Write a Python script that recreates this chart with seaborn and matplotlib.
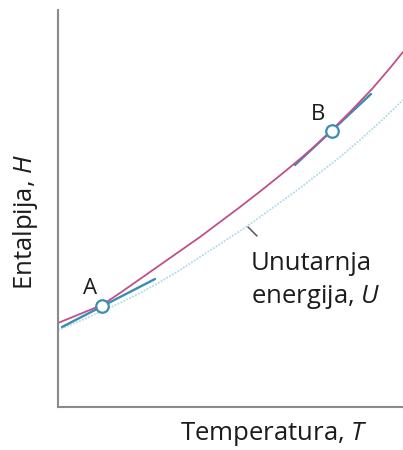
import matplotlib
matplotlib.use("Agg")
import matplotlib.pyplot as plt
import seaborn as sns
import pandas as pd

# enthalpy curve H(T) (arbitrary units)
t_h = [0, 22, 44, 62, 82, 102, 122, 142, 162, 182, 202, 222, 242, 257, 273, 292, 314, 332, 345]
h_vals = [84, 93, 102, 114, 128, 142, 156, 170, 185, 200, 215.5, 231.5, 248, 261, 276, 295, 318, 339, 355]

# internal energy curve U(T)
t_u = [0, 22, 42, 62, 82, 102, 122, 142, 162, 182, 202, 222, 242, 262, 282, 302, 322, 345]
u_vals = [77, 86, 95, 104, 114, 125, 137, 150, 163, 176, 190, 204.5, 219, 234.5, 250, 267, 285, 307]

# tangent segments at A and B
tan_a_t = [4, 97]
tan_a_h = [80, 128]
tan_b_t = [237, 313]
tan_b_h = [242, 313]

# marked points
point_names = ["A", "B"]
point_t = [44, 274]
point_h = [101, 276]

# pointer from the U label to the curve
pointer_t = [190, 199]
pointer_h = [180, 171]

sns.set_style("white")
plt.rcParams["font.family"] = ["Open Sans", "DejaVu Sans"]
plt.rcParams["mathtext.fontset"] = "custom"
plt.rcParams["mathtext.rm"] = "Open Sans"
plt.rcParams["mathtext.it"] = "Open Sans:italic"

magenta = "#c0508a"
blue = "#3a8db3"
light_blue = "#b2dae8"
ink = "#1c1c1c"

fig = plt.figure(figsize=(4.03, 4.5), dpi=100)
ax = fig.add_axes([58 / 403, 43 / 450, 345 / 403, 397 / 450])

h_df = pd.DataFrame({"T": t_h, "H": h_vals})
u_df = pd.DataFrame({"T": t_u, "U": u_vals})

sns.lineplot(data=u_df, x="T", y="U", ax=ax, color=light_blue, lw=1.3,
             linestyle=(0, (1, 0.8)), sort=False, estimator=None)
sns.lineplot(x=tan_a_t, y=tan_a_h, ax=ax, color=blue, lw=1.7, sort=False, estimator=None)
sns.lineplot(x=tan_b_t, y=tan_b_h, ax=ax, color=blue, lw=1.7, sort=False, estimator=None)
sns.lineplot(data=h_df, x="T", y="H", ax=ax, color=magenta, lw=1.3, sort=False, estimator=None)
sns.lineplot(x=pointer_t, y=pointer_h, ax=ax, color="#555555", lw=1.1, sort=False, estimator=None)

ax.plot(point_t, point_h, "o", ms=9, mfc="white", mec=blue, mew=1.6, zorder=5)
ax.text(point_t[0] - 12, point_h[0] + 17, point_names[0], fontsize=16,
        ha="center", va="center", color=ink)
ax.text(point_t[1] - 14, point_h[1] + 16, point_names[1], fontsize=16,
        ha="center", va="center", color=ink)

ax.text(193, 137, "Unutarnja", fontsize=18.5, ha="left", va="baseline", color=ink)
ax.text(193, 104, "energija, $U$", fontsize=18.5, ha="left", va="baseline", color=ink)

ax.set_xlim(0, 345)
ax.set_ylim(0, 397)
ax.set_xticks([])
ax.set_yticks([])
ax.set_xlabel("")
ax.set_ylabel("")
for side in ["top", "right"]:
    ax.spines[side].set_visible(False)
for side in ["left", "bottom"]:
    ax.spines[side].set_color("#8a8a8a")
    ax.spines[side].set_linewidth(1.5)

fig.text(274 / 403, 1 - 434 / 450, "Temperatura, $T$", fontsize=18.5,
         ha="center", va="center", color=ink)
fig.text(25 / 403, 1 - 222 / 450, "Entalpija, $H$", fontsize=18.5, rotation=90,
         ha="center", va="center", color=ink)

fig.savefig("out.png", dpi=100)
